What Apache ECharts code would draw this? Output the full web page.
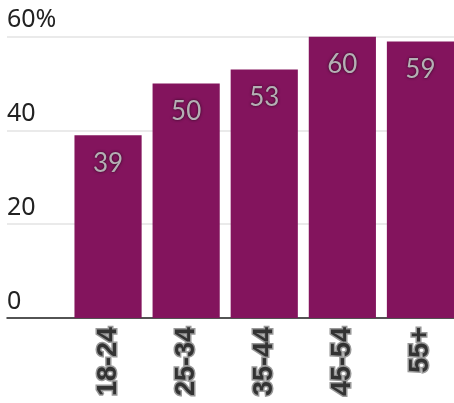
<!DOCTYPE html>
<html><head><meta charset="utf-8">
<script src="https://cdn.jsdelivr.net/npm/echarts@6/dist/echarts.min.js"></script>
<style>html,body{margin:0;padding:0;background:#fff}#c{width:454px;height:403px}</style>
</head><body><div id="c"></div>
<script>
const categories = ['18-24', '25-34', '35-44', '45-54', '55+'];
const values = [39, 50, 53, 60, 59];
const yTicks = [0, 20, 40, 60];

const chart = echarts.init(document.getElementById('c'), null, {renderer: 'canvas'});
const gTop = 36.7, gBottom = 85;
chart.setOption({
  animation: false,
  grid: [
    {left: 7, right: 0, top: gTop, bottom: gBottom, outerBoundsMode: 'none'},
    {left: 69, width: 390.5, top: gTop, bottom: gBottom, outerBoundsMode: 'none', containLabel: false}
  ],
  xAxis: [
    {gridIndex: 0, type: 'value', min: 0, max: 1, show: true,
     axisLine: {show: true, onZero: false, lineStyle: {color: '#222', width: 1.5}},
     axisTick: {show: false}, axisLabel: {show: false}, splitLine: {show: false}},
    {gridIndex: 1, type: 'category', data: categories,
     axisLine: {show: false}, axisTick: {show: false},
     axisLabel: {rotate: 90, margin: 9, fontFamily: 'Liberation Sans', fontWeight: 'bold',
       fontSize: 27, color: '#333', textBorderColor: '#999', textBorderWidth: 3}}
  ],
  yAxis: [
    {gridIndex: 0, type: 'value', min: 0, max: 60, interval: 20,
     axisLine: {show: false}, axisTick: {show: false},
     splitLine: {show: true, lineStyle: {color: '#e3e3e3', width: 1.5}},
     axisLabel: {inside: true, margin: 0, verticalAlign: 'bottom', padding: [0, 0, 4, 0],
       fontFamily: 'Noto Sans', fontSize: 25, color: '#222',
       formatter: v => yTicks.includes(v) ? (v === 60 ? v + '%' : String(v)) : ''}},
    {gridIndex: 1, type: 'value', min: 0, max: 60, show: false}
  ],
  series: [{
    type: 'bar', xAxisIndex: 1, yAxisIndex: 1, data: values,
    barCategoryGap: '14%',
    itemStyle: {color: '#83145d'},
    label: {show: true, position: 'insideTop', distance: 15, fontFamily: 'Lato', fontSize: 26,
      color: '#b4b0b4', textShadowColor: 'rgba(0,0,0,0.7)', textShadowBlur: 3}
  }]
});
</script></body></html>
